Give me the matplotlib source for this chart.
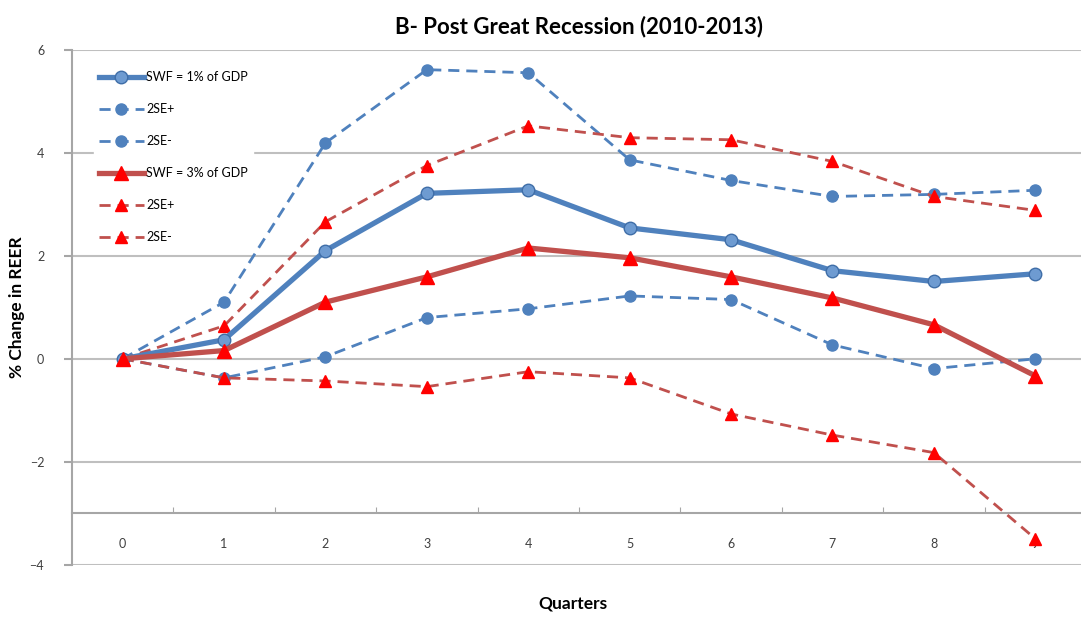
import numpy as np
import matplotlib.pyplot as plt

plt.rcParams['font.family'] = ['Lato', 'DejaVu Sans']

# data
quarters = [0, 1, 2, 3, 4, 5, 6, 7, 8, 9]
swf1 = [0.0, 0.37, 2.10, 3.21, 3.28, 2.54, 2.31, 1.71, 1.50, 1.65]
swf1_up = [0.0, 1.10, 4.19, 5.61, 5.55, 3.86, 3.46, 3.15, 3.19, 3.27]
swf1_lo = [0.0, -0.37, 0.04, 0.80, 0.97, 1.22, 1.15, 0.27, -0.19, 0.0]
swf3 = [0.0, 0.16, 1.10, 1.59, 2.15, 1.96, 1.59, 1.18, 0.66, -0.33]
swf3_up = [0.0, 0.64, 2.66, 3.75, 4.52, 4.29, 4.25, 3.83, 3.15, 2.88]
swf3_lo = [0.0, -0.37, -0.43, -0.54, -0.25, -0.37, -1.07, -1.48, -1.82, -3.49]

blue = '#4F81BD'
red_line = '#C0504D'
red_mark = '#FF0000'
grey = '#BFBFBF'

fig = plt.figure(figsize=(10.81, 6.18), dpi=100)
ax = fig.add_axes([0.0666, 0.0858, 0.938, 0.834])

ax.plot(quarters, swf1, color=blue, lw=3.8, marker='o', ms=9,
        mfc='#6E9BD1', mec='#3F6EA8', mew=1, label='SWF = 1% of GDP', zorder=5)
ax.plot(quarters, swf1_up, color=blue, lw=2, ls=(0, (4, 2.5)), marker='o', ms=8,
        mfc=blue, mec=blue, label='2SE+', zorder=4)
ax.plot(quarters, swf1_lo, color=blue, lw=2, ls=(0, (4, 2.5)), marker='o', ms=8,
        mfc=blue, mec=blue, label='2SE-', zorder=4)
ax.plot(quarters, swf3, color=red_line, lw=3.8, marker='^', ms=10,
        mfc=red_mark, mec=red_mark, label='SWF = 3% of GDP', zorder=5)
ax.plot(quarters, swf3_up, color=red_line, lw=2, ls=(0, (4, 2.5)), marker='^', ms=8,
        mfc=red_mark, mec=red_mark, label='2SE+', zorder=4)
ax.plot(quarters, swf3_lo, color=red_line, lw=2, ls=(0, (4, 2.5)), marker='^', ms=8,
        mfc=red_mark, mec=red_mark, label='2SE-', zorder=4)

ax.set_xlim(-0.5, 9.5)
ax.set_ylim(-4, 6)
ax.set_yticks([-4, -2, 0, 2, 4, 6])
ax.yaxis.grid(True, color=grey, lw=1.5)
ax.set_axisbelow(True)

# category axis crosses at -3, Excel style
for s in ['top', 'right']:
    ax.spines[s].set_visible(False)
ax.spines['bottom'].set_position(('data', -3))
ax.spines['bottom'].set_color('#A6A6A6')
ax.spines['bottom'].set_linewidth(1.5)
ax.spines['left'].set_color('#A6A6A6')
ax.spines['left'].set_linewidth(1.5)
ax.set_xticks(np.arange(0.5, 9.5, 1))
ax.set_xticklabels([])
ax.set_xticks(quarters, minor=True)
ax.set_xticklabels([str(q) for q in quarters], minor=True)
ax.tick_params(axis='x', which='major', direction='in', length=4, color='#A6A6A6')
ax.tick_params(axis='x', which='minor', length=0, pad=18, labelsize=9, labelcolor='#404040')
ax.tick_params(axis='y', length=6, color='#A6A6A6', width=1.5, labelsize=9,
               labelcolor='#404040', pad=14)

ax.set_title('B- Post Great Recession (2010-2013)', fontsize=16, fontweight='bold', pad=12)
ax.set_ylabel('% Change in REER', fontsize=12.5, fontweight='bold')
ax.yaxis.set_label_coords(-0.046, 0.5)
fig.text(0.53, 0.023, 'Quarters', ha='center', va='center', fontsize=12.5, fontweight='bold')

leg = ax.legend(loc='upper left', bbox_to_anchor=(0.018, 0.975), frameon=True,
                framealpha=1, edgecolor='white', fontsize=9, handlelength=3.6,
                labelspacing=1.6, borderaxespad=0.3, handletextpad=0.2)

fig.savefig('out.png', dpi=100)
